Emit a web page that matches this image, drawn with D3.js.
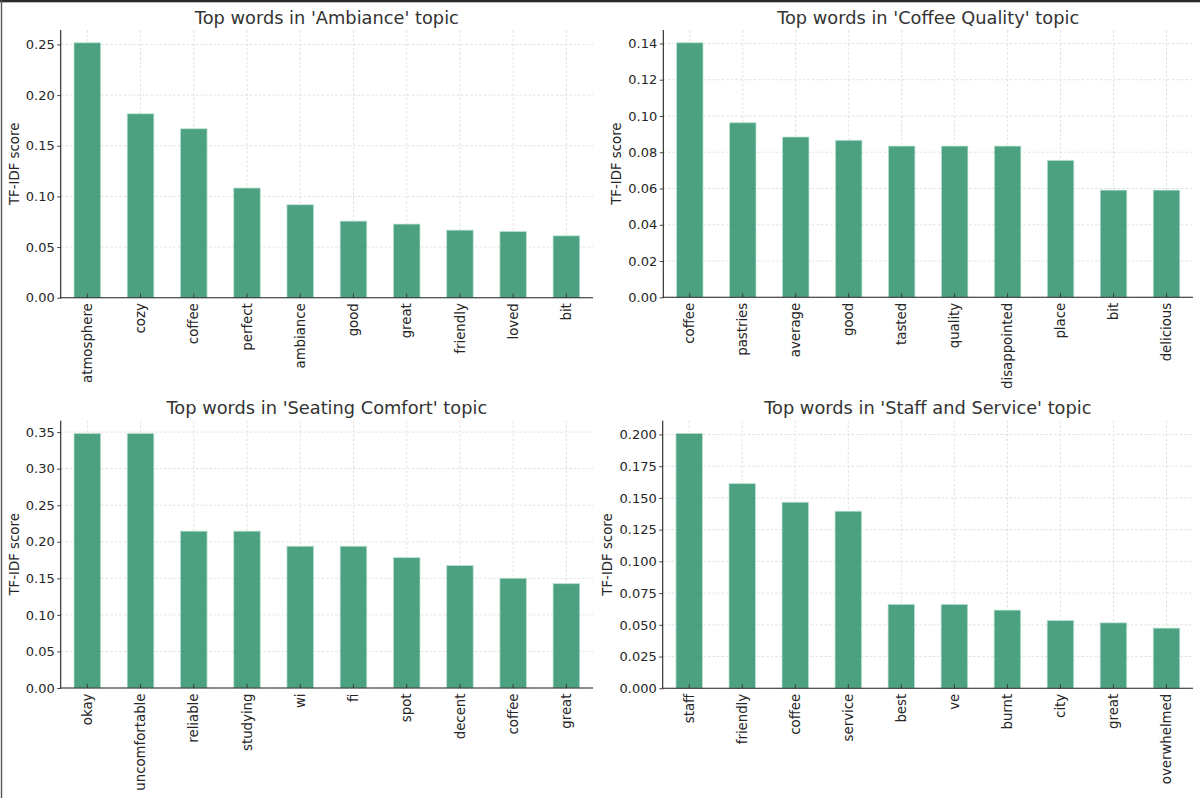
<!DOCTYPE html>
<html>
<head>
<meta charset="utf-8">
<script src="https://cdn.jsdelivr.net/npm/d3@7"></script>
<style>
  html, body { margin: 0; padding: 0; background: #fff; }
  svg { display: block; }
  text { font-family: "DejaVu Sans", sans-serif; }
</style>
</head>
<body>
<svg id="chart" width="1200" height="798"></svg>
<script>
// ---------- data ----------
const ambianceWords = ["atmosphere","cozy","coffee","perfect","ambiance","good","great","friendly","loved","bit"];
const ambianceScores = [0.2517,0.1816,0.1668,0.1083,0.0918,0.0756,0.0727,0.0667,0.0654,0.0611];

const coffeeWords = ["coffee","pastries","average","good","tasted","quality","disappointed","place","bit","delicious"];
const coffeeScores = [0.1404,0.0963,0.0884,0.0866,0.0834,0.0834,0.0834,0.0755,0.0591,0.0591];

const seatingWords = ["okay","uncomfortable","reliable","studying","wi","fi","spot","decent","coffee","great"];
const seatingScores = [0.3482,0.3482,0.2145,0.2145,0.1939,0.1939,0.1784,0.1675,0.1501,0.1428];

const staffWords = ["staff","friendly","coffee","service","best","ve","burnt","city","great","overwhelmed"];
const staffScores = [0.2008,0.1613,0.1466,0.1395,0.0661,0.0661,0.0616,0.0534,0.0516,0.0474];

const topicNames = ["Ambiance","Coffee Quality","Seating Comfort","Staff and Service"];

const ambianceTicks = [0,0.05,0.10,0.15,0.20,0.25];
const coffeeTicks = [0,0.02,0.04,0.06,0.08,0.10,0.12,0.14];
const seatingTicks = [0,0.05,0.10,0.15,0.20,0.25,0.30,0.35];
const staffTicks = [0,0.025,0.05,0.075,0.10,0.125,0.15,0.175,0.20];

const yLabel = "TF-IDF score";

// ---------- layout ----------
const panels = [
  {words: ambianceWords, scores: ambianceScores, ticks: ambianceTicks, fmt: ".2f", name: topicNames[0],
   x0: 60.7, x1: 593, y0: 30, y1: 297.7, ylabX: 14, titleY: 23.5},
  {words: coffeeWords, scores: coffeeScores, ticks: coffeeTicks, fmt: ".2f", name: topicNames[1],
   x0: 663.3, x1: 1193, y0: 30, y1: 297.3, ylabX: 616, titleY: 23.5},
  {words: seatingWords, scores: seatingScores, ticks: seatingTicks, fmt: ".2f", name: topicNames[2],
   x0: 60.7, x1: 593, y0: 420.7, y1: 688, ylabX: 14, titleY: 414},
  {words: staffWords, scores: staffScores, ticks: staffTicks, fmt: ".3f", name: topicNames[3],
   x0: 662.7, x1: 1193, y0: 420.7, y1: 688.3, ylabX: 607, titleY: 414}
];

const svg = d3.select("#chart");
svg.append("rect").attr("width", 1200).attr("height", 798).attr("fill", "#fff");

const barFill = "#2d906b";
const gridColor = "#d9d9d9";
const textColor = "#262626";

panels.forEach(p => {
  const g = svg.append("g");
  const x = d3.scaleBand().domain(p.words).range([p.x0, p.x1]).paddingInner(0.5).paddingOuter(0.25);
  const ymax = d3.max(p.scores) * 1.05;
  const y = d3.scaleLinear().domain([0, ymax]).range([p.y1, p.y0]);

  // grid
  g.append("g").selectAll("line.h").data(p.ticks).join("line")
    .attr("x1", p.x0).attr("x2", p.x1)
    .attr("y1", d => y(d)).attr("y2", d => y(d))
    .attr("stroke", gridColor).attr("stroke-width", 0.8).attr("stroke-dasharray", "2.5,2");
  g.append("g").selectAll("line.v").data(p.words).join("line")
    .attr("x1", d => x(d) + x.bandwidth()/2).attr("x2", d => x(d) + x.bandwidth()/2)
    .attr("y1", p.y0).attr("y2", p.y1)
    .attr("stroke", gridColor).attr("stroke-width", 0.8).attr("stroke-dasharray", "2.5,2");

  // bars
  g.append("g").selectAll("rect").data(p.words.map((w, i) => ({w, v: p.scores[i]}))).join("rect")
    .attr("x", d => x(d.w)).attr("width", x.bandwidth())
    .attr("y", d => y(d.v)).attr("height", d => y(0) - y(d.v))
    .attr("fill", barFill).attr("fill-opacity", 0.85)
    .attr("stroke", "#bfe6d6").attr("stroke-opacity", 0.7).attr("stroke-width", 1);

  // y axis
  const yAxis = d3.axisLeft(y).tickValues(p.ticks).tickFormat(d3.format(p.fmt)).tickSize(3.5).tickPadding(2.5);
  const ya = g.append("g").attr("transform", `translate(${p.x0},0)`).call(yAxis);
  ya.select(".domain").remove();
  ya.selectAll(".tick line").attr("stroke", "#333").attr("stroke-width", 0.9);
  ya.selectAll(".tick text").attr("font-size", 13).attr("fill", textColor).attr("font-family", "DejaVu Sans");
  g.append("line").attr("x1", p.x0).attr("x2", p.x0).attr("y1", p.y0).attr("y2", p.y1 + 0.5)
    .attr("stroke", "#222").attr("stroke-width", 1.1);

  // x axis
  const xAxis = d3.axisBottom(x).tickSize(-4).tickPadding(0);
  const xa = g.append("g").attr("transform", `translate(0,${p.y1})`).call(xAxis);
  xa.select(".domain").remove();
  xa.selectAll(".tick line").attr("stroke", "#333").attr("stroke-width", 0.9);
  xa.selectAll(".tick text")
    .attr("font-size", 13.3).attr("fill", textColor).attr("font-family", "DejaVu Sans")
    .attr("text-anchor", "end")
    .attr("transform", "translate(0,5.5) rotate(-90)")
    .attr("x", 0).attr("y", 0).attr("dy", "0.35em");
  g.append("line").attr("x1", p.x0 - 0.5).attr("x2", p.x1).attr("y1", p.y1).attr("y2", p.y1)
    .attr("stroke", "#222").attr("stroke-width", 1.1);

  // y label
  g.append("text")
    .attr("transform", `translate(${p.ylabX},${(p.y0 + p.y1)/2}) rotate(-90)`)
    .attr("text-anchor", "middle").attr("dy", "0.35em")
    .attr("font-size", 13.3).attr("fill", textColor)
    .text(yLabel);

  // title
  g.append("text")
    .attr("x", (p.x0 + p.x1)/2).attr("y", p.titleY)
    .attr("text-anchor", "middle")
    .attr("font-size", 17.8).attr("fill", "#333")
    .text(`Top words in '${p.name}' topic`);
});

// screenshot frame edges
svg.append("rect").attr("x", 0).attr("y", 0).attr("width", 1200).attr("height", 2.3).attr("fill", "#2a2a2a");
svg.append("rect").attr("x", 0.8).attr("y", 0).attr("width", 1.4).attr("height", 798).attr("fill", "#555");
</script>
</body>
</html>
